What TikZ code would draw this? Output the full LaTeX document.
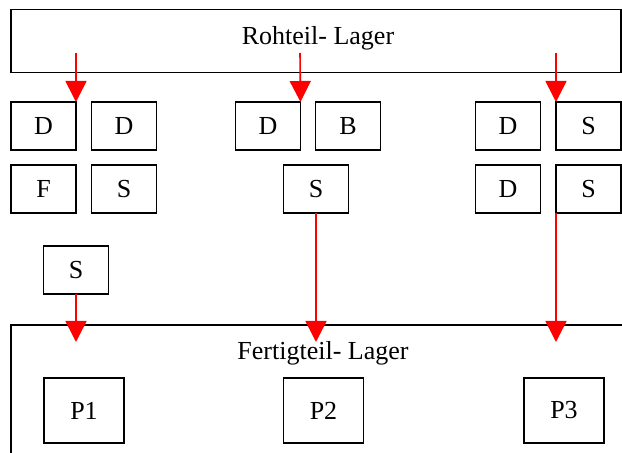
\documentclass[tikz,border=0pt]{standalone}
\usepackage{fontspec}
\setmainfont{Liberation Serif}
\usetikzlibrary{arrows.meta}

\tikzset{
    box/.style = {draw, line width = 0.9pt, inner sep = 0pt, outer sep = 0pt, minimum width = 32.5pt, minimum height = 24pt},
    flow/.style = {red, line width = 0.8pt, -{Triangle[length = 10.5pt, width = 10.5pt]}}
}

\begin{document}
\begin{tikzpicture}[x = 0.5pt, y = -0.5pt, font = \fontsize{13}{15}\selectfont]
        \useasboundingbox (0, 0) rectangle (622, 453);
        \clip (0, 0) rectangle (622, 453);

        \node[box, minimum width = 305pt, minimum height = 31.5pt] (rohteil) at (316, 41) {};
        \node (rohteiltext) at (318, 38) {Rohteil- Lager};

        \node[box] (d1) at (43.5, 126) {D};
        \node[box] (d2) at (124, 126) {D};
        \node[box] (d3) at (268, 126) {D};
        \node[box] (b1) at (348, 126) {B};
        \node[box] (d4) at (508, 126) {D};
        \node[box] (s1) at (588.5, 126) {S};

        \node[box] (f1) at (43.5, 189) {F};
        \node[box] (s2) at (124, 189) {S};
        \node[box] (s3) at (316, 189) {S};
        \node[box] (d5) at (508, 189) {D};
        \node[box] (s4) at (588.5, 189) {S};

        \node[box] (s5) at (76, 270) {S};

        \draw[line width = 0.9pt] (11, 325) rectangle (640, 480);
        \node (fertigteil) at (323, 353) {Fertigteil- Lager};

        \node[box, minimum width = 40pt, minimum height = 32.5pt] (p1) at (84, 410.5) {P1};
        \node[box, minimum width = 40pt, minimum height = 32.5pt] (p2) at (323.5, 410.5) {P2};
        \node[box, minimum width = 40pt, minimum height = 32.5pt] (p3) at (564, 410.5) {P3};

        \coordinate (out1) at (76, 53);
        \coordinate (out2) at (300, 53);
        \coordinate (out3) at (556, 53);
        \coordinate (in1) at (76, 342);
        \coordinate (in2) at (316, 342);
        \coordinate (in3) at (556, 342);

        \draw[flow] (out1) -- (d1.north east);
        \draw[flow] (out2) -- (d3.north east);
        \draw[flow] (out3) -- (s1.north west);

        \draw[flow] (s5.south) -- (in1);
        \draw[flow] (s3.south) -- (in2);
        \draw[flow] (s4.south west) -- (in3);
    \end{tikzpicture}
\end{document}
